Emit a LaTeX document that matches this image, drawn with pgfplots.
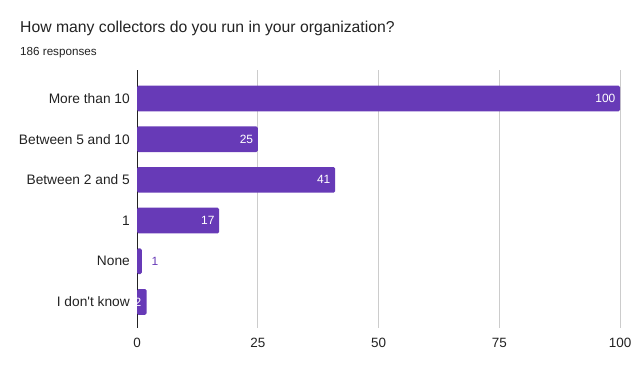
\documentclass[border=0pt]{standalone}
\usepackage{fontspec}
\setmainfont{Liberation Sans}
\newfontfamily\plainfont{Liberation Sans}
\usepackage{pgfplots}
\pgfplotsset{compat=1.18}
\definecolor{barc}{HTML}{673AB7}
\definecolor{gridc}{HTML}{CCCCCC}
\definecolor{txt}{HTML}{222222}
\begin{document}
\begin{tikzpicture}[x=1bp,y=1bp]
\path[use as bounding box] (0,0) rectangle (639,371);
\node[anchor=base west, font=\fontsize{15.8}{18}\selectfont, text=txt, inner sep=0] at (20,339) {How many collectors do you run in your organization?};
\node[anchor=base west, font=\fontsize{11.7}{14}\selectfont, text=txt, inner sep=0] at (20,316) {186 responses};
\begin{axis}[
  at={(137bp,43bp)}, anchor=south west, scale only axis,
  width=483bp, height=258bp,
  xbar, bar shift=0pt, bar width=25.7bp,
  xmin=0, xmax=100, ymin=-0.7, ymax=5.64, y dir=reverse,
  ytick={0,...,5},
  yticklabels={More than 10, Between 5 and 10, Between 2 and 5, 1, None, {I don{\plainfont'}t know}},
  xtick={25,50,75,100},
  extra x ticks={0},
  extra x tick style={grid style={draw=txt, line width=1bp}},
  xmajorgrids,
  grid style={draw=gridc, line width=1bp},
  axis line style={draw=none},
  major tick length=0pt,
  tick style={draw=none},
  every tick label/.append style={text=txt, font=\fontsize{13.5}{16}\selectfont, inner sep=0pt},
  xticklabel style={anchor=center, yshift=-15bp},
  yticklabel style={anchor=east, xshift=-7bp, font=\fontsize{13.8}{16}\selectfont},
  /pgf/number format/assume math mode=true,
  nodes near coords,
  nodes near coords style={font=\fontsize{12}{14}\selectfont, text=white, anchor=east, xshift=-4.5bp, inner sep=0pt},
  clip=false,
]
\addplot[fill=barc, draw=none, rounded corners=1.5bp] coordinates {(100,0) (25,1) (41,2) (17,3)};
\addplot[fill=barc, draw=none, rounded corners=1.5bp, nodes near coords style={text=barc, anchor=west, xshift=14bp}] coordinates {(1,4)};
\addplot[fill=barc, draw=none, rounded corners=1.5bp, nodes near coords style={anchor=east, xshift=-0.8bp}] coordinates {(2,5)};
\end{axis}
\end{tikzpicture}
\end{document}
